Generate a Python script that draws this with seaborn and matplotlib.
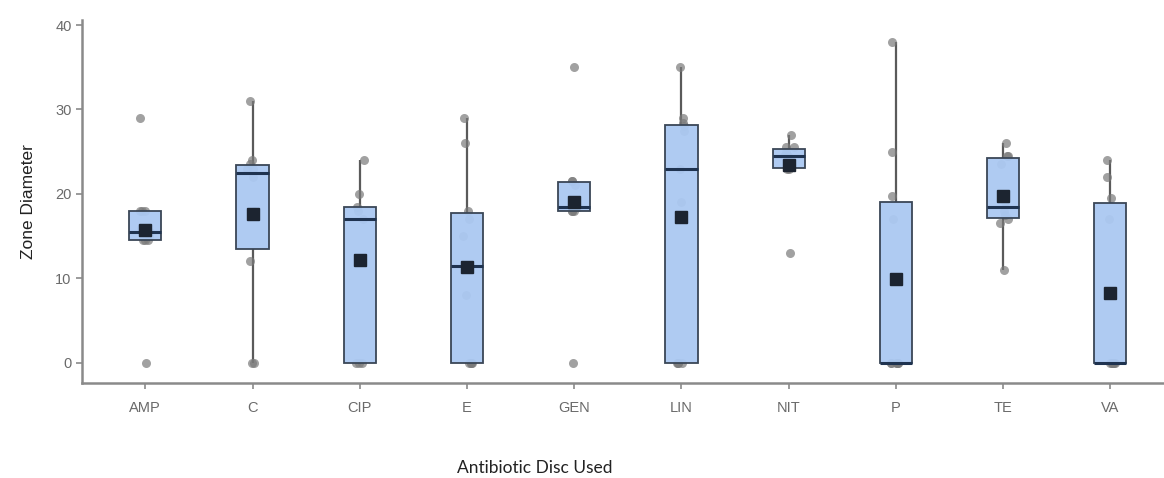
import numpy as np
import pandas as pd
import seaborn as sns
import matplotlib.pyplot as plt

# zone diameters, one list per disc
amp = [0, 14.5, 14.5, 14.5, 15, 15.5, 16, 18, 18, 18, 29]
c = [0, 0, 12, 18, 22, 23, 23, 23.5, 24, 31]
cip = [0, 0, 0, 12, 17, 18, 18.5, 20, 24]
e = [0, 0, 0, 0, 8, 15, 17, 18, 26, 29]
gen = [0, 18, 18, 18, 18.5, 18.5, 21, 21.5, 21.5, 35]
lin = [0, 0, 0, 0, 19, 23, 27.5, 28, 28.4, 29, 35]
nit = [13, 23, 23, 23.5, 24.5, 24.5, 25, 25.5, 25.5, 27]
p = [0, 0, 0, 0, 0, 0, 17, 19.7, 25, 38]
te = [11, 16.5, 17, 17.5, 18, 19, 23.5, 24.5, 24.5, 26]
va = [0, 0, 0, 0, 0, 0, 17, 19.5, 22, 24]

discs = ["AMP", "C", "CIP", "E", "GEN", "LIN", "NIT", "P", "TE", "VA"]
values = [amp, c, cip, e, gen, lin, nit, p, te, va]

df = pd.DataFrame({
    "disc": np.repeat(discs, [len(v) for v in values]),
    "zone": np.concatenate(values),
})

sns.set_style("white")
plt.rcParams["font.family"] = ["Liberation Sans", "DejaVu Sans"]

fig = plt.figure(figsize=(11.64, 4.78), dpi=100)
ax = fig.add_axes([82 / 1164, 1 - 383 / 478, 1 - 82 / 1164, (383 - 20) / 478])

np.random.seed(3)
sns.stripplot(data=df, x="disc", y="zone", order=discs, ax=ax,
              color="#7a7a7a", alpha=0.7, size=6.5, jitter=0.05,
              linewidth=0, zorder=1)

sns.boxplot(data=df, x="disc", y="zone", order=discs, ax=ax,
            width=0.3, showfliers=False, showcaps=False, showmeans=True,
            boxprops=dict(facecolor=(0.67, 0.79, 0.95, 0.95),
                          edgecolor="#3a4656", linewidth=1.3, zorder=2),
            medianprops=dict(color="#1f3350", linewidth=2.2, zorder=3),
            whiskerprops=dict(color="#5a5a5a", linewidth=1.6, zorder=0.5),
            meanprops=dict(marker="s", markerfacecolor="#1c2430",
                           markeredgecolor="#1c2430", markersize=9, zorder=4))

ax.set_xlim(-0.59, 9.5)
ax.set_ylim(-2.4, 40.6)
ax.set_yticks([0, 10, 20, 30, 40])
ax.set_xlabel("")
ax.set_ylabel("Zone Diameter", fontsize=12.5, color="#222222", labelpad=14)

for side in ["top", "right"]:
    ax.spines[side].set_visible(False)
for side in ["left", "bottom"]:
    ax.spines[side].set_color("#8a8a8a")
    ax.spines[side].set_linewidth(1.8)

ax.tick_params(axis="both", length=4, width=1.2, color="#8a8a8a",
               labelcolor="#6a6a6a", labelsize=10.5, left=True, bottom=True)
ax.tick_params(axis="x", pad=9)

fig.text(535 / 1164, 1 - 468 / 478, "Antibiotic Disc Used", ha="center",
         va="center", fontsize=12.5, color="#222222", family=["Lato", "DejaVu Sans"])

fig.savefig("out.png", dpi=100)
